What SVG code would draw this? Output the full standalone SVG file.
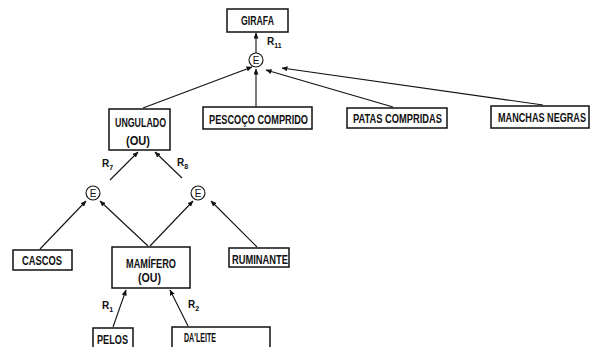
<svg xmlns="http://www.w3.org/2000/svg" width="591" height="347" viewBox="0 0 591 347">
  <defs>
    <marker id="arrow" markerUnits="userSpaceOnUse" markerWidth="6" markerHeight="5" refX="5.5" refY="2.5" orient="auto">
      <path d="M0,0 L6,2.5 L0,5 Z" fill="#111"/>
    </marker>
    <style>
      .box { fill: #fff; stroke: #111; stroke-width: 1.5; }
      .gate { fill: #fff; stroke: #111; stroke-width: 1.1; }
      .label { font-family: "Liberation Sans", Arial, sans-serif; font-size: 12px; font-weight: bold; fill: #111; text-anchor: start; }
      .gtxt { font-family: "Liberation Sans", Arial, sans-serif; font-size: 10px; fill: #111; text-anchor: middle; }
      .rule { font-family: "Liberation Sans", Arial, sans-serif; font-size: 10px; font-weight: bold; fill: #111; }
      .sub { font-size: 7px; }
      .edge { stroke: #111; stroke-width: 1.1; fill: none; marker-end: url(#arrow); }
    </style>
  </defs>
  <rect width="591" height="347" fill="#fff"/>

  <!-- connectors -->
  <g id="connectors">
    <line class="edge" x1="256" y1="53" x2="256" y2="33"/>
    <line class="edge" x1="143" y1="108" x2="252" y2="67"/>
    <line class="edge" x1="256" y1="107" x2="256" y2="69"/>
    <line class="edge" x1="393" y1="107" x2="266" y2="70"/>
    <line class="edge" x1="543" y1="105" x2="282" y2="68"/>
    <line class="edge" x1="110" y1="180" x2="138" y2="152"/>
    <line class="edge" x1="182" y1="178" x2="155" y2="152"/>
    <line class="edge" x1="40" y1="249" x2="86" y2="201"/>
    <line class="edge" x1="148" y1="246" x2="100" y2="201"/>
    <line class="edge" x1="150" y1="246" x2="193" y2="201"/>
    <line class="edge" x1="257" y1="247" x2="211" y2="201"/>
    <line class="edge" x1="113" y1="327" x2="126" y2="290"/>
    <line class="edge" x1="188" y1="326" x2="170" y2="290"/>
  </g>

  <!-- rule labels -->
  <g id="rules">
    <text class="rule" x="267" y="45">R<tspan class="sub" dy="3">11</tspan></text>
    <text class="rule" x="102" y="167">R<tspan class="sub" dy="3">7</tspan></text>
    <text class="rule" x="177" y="166">R<tspan class="sub" dy="3">8</tspan></text>
    <text class="rule" x="102" y="309">R<tspan class="sub" dy="3">1</tspan></text>
    <text class="rule" x="188" y="308">R<tspan class="sub" dy="3">2</tspan></text>
  </g>

  <!-- AND gates -->
  <g id="e-top">
    <circle class="gate" cx="256" cy="60" r="7"/>
    <text class="gtxt" x="256" y="63.6">E</text>
  </g>
  <g id="e-left">
    <circle class="gate" cx="93" cy="193" r="7"/>
    <text class="gtxt" x="93" y="196.6">E</text>
  </g>
  <g id="e-right">
    <circle class="gate" cx="198" cy="193" r="7"/>
    <text class="gtxt" x="198" y="196.6">E</text>
  </g>

  <!-- nodes -->
  <g id="girafa">
    <rect class="box" x="227" y="9" width="61" height="23"/>
    <text class="label" x="241" y="25" textLength="33" lengthAdjust="spacingAndGlyphs">GIRAFA</text>
  </g>
  <g id="pescoco">
    <rect class="box" x="203" y="107" width="109" height="22"/>
    <text class="label" x="209" y="124" textLength="99" lengthAdjust="spacingAndGlyphs">PESCOÇO COMPRIDO</text>
  </g>
  <g id="ungulado">
    <rect class="box" x="109" y="109" width="61" height="41"/>
    <text class="label" x="115" y="127" textLength="51" lengthAdjust="spacingAndGlyphs">UNGULADO</text>
    <text class="label" x="126" y="145" textLength="24" lengthAdjust="spacingAndGlyphs">(OU)</text>
  </g>
  <g id="patas">
    <rect class="box" x="347" y="108" width="100" height="20"/>
    <text class="label" x="353" y="123" textLength="89" lengthAdjust="spacingAndGlyphs">PATAS COMPRIDAS</text>
  </g>
  <g id="manchas">
    <rect class="box" x="491" y="106" width="98" height="22"/>
    <!-- narrowed with a horizontal scale so it stays inside the box -->
    <text class="label" transform="translate(498 122) scale(0.76 1)">MANCHAS NEGRAS</text>
  </g>
  <g id="cascos">
    <rect class="box" x="13" y="250" width="59" height="20"/>
    <text class="label" x="22" y="265" textLength="40" lengthAdjust="spacingAndGlyphs">CASCOS</text>
  </g>
  <g id="mamifero">
    <rect class="box" x="112" y="247" width="78" height="41"/>
    <text class="label" x="126" y="268" textLength="50" lengthAdjust="spacingAndGlyphs">MAMÍFERO</text>
    <text class="label" x="138" y="282" textLength="23" lengthAdjust="spacingAndGlyphs">(OU)</text>
  </g>
  <g id="ruminante">
    <rect class="box" x="229" y="248" width="60" height="19"/>
    <text class="label" x="232" y="264" textLength="56" lengthAdjust="spacingAndGlyphs">RUMINANTE</text>
  </g>
  <g id="pelos">
    <rect class="box" x="93" y="328" width="40" height="21"/>
    <text class="label" x="97" y="344" textLength="31" lengthAdjust="spacingAndGlyphs">PELOS</text>
  </g>
  <g id="daleite">
    <rect class="box" x="172" y="327" width="98" height="22"/>
    <text class="label" x="184" y="342" textLength="32" lengthAdjust="spacingAndGlyphs">DA'LEITE</text>
  </g>
</svg>
